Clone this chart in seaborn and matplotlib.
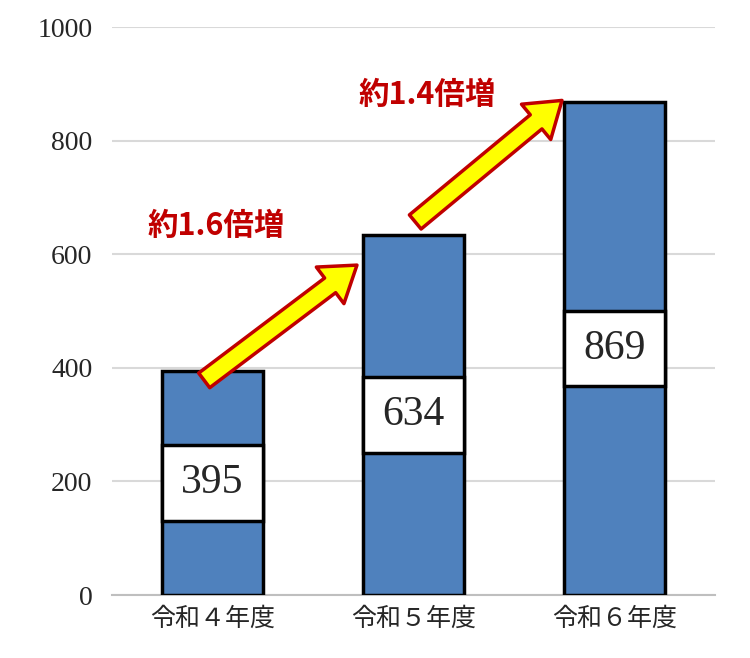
import matplotlib
matplotlib.use("Agg")
import matplotlib.pyplot as plt
import seaborn as sns
import pandas as pd

categories = ["令和４年度", "令和５年度", "令和６年度"]
values = [395, 634, 869]
ratio_labels = ["約1.6倍増", "約1.4倍増"]

sns.set_style("white")
plt.rcParams['font.family'] = ['Noto Sans CJK JP', 'DejaVu Sans']

df = pd.DataFrame({"cat": categories, "val": values})
fig = plt.figure(figsize=(7.5, 6.58), dpi=100)
ax = fig.add_axes([0.149, 0.0957, 0.804, 0.863])
sns.barplot(data=df, x="cat", y="val", color="#4F81BD", saturation=1,
            width=0.5, edgecolor="black", linewidth=2.5, ax=ax, zorder=3)
box_h = 133
for i, v in enumerate(values):
    ax.bar(i, box_h, bottom=v / 2 - box_h / 2, width=0.5, color="white",
           edgecolor="black", linewidth=2.5, zorder=4)
    ax.text(i, v / 2, str(v), ha="center", va="center", fontsize=30,
            family="Liberation Serif", zorder=5)

ax.set_ylim(0, 1000)
ax.set_xlim(-0.5, 2.5)
ax.set_yticks(range(0, 1001, 200))
ax.yaxis.grid(True, color="#D9D9D9", linewidth=1.5, zorder=0)
ax.set_axisbelow(True)
for s in ["left", "right", "top"]:
    ax.spines[s].set_visible(False)
ax.spines["bottom"].set_color("#BFBFBF")
ax.spines["bottom"].set_linewidth(1.5)
ax.set_xlabel("")
ax.set_ylabel("")
ax.tick_params(axis="y", labelsize=20, length=0, pad=14)
ax.tick_params(axis="x", labelsize=18, length=0, pad=8)
for t in ax.get_yticklabels():
    t.set_family("Liberation Serif")

arrows = [((-0.04, 378), (0.72, 581)), ((1.01, 657), (1.74, 871))]
for (s, e) in arrows:
    ax.annotate("", xy=e, xytext=s, zorder=6,
                arrowprops=dict(arrowstyle="simple,head_length=1.1,head_width=1.5,tail_width=0.6",
                                fc="#FFFF00", ec="#C00000", lw=2.5, mutation_scale=22,
                                shrinkA=0, shrinkB=0))
ax.text(0.02, 650, ratio_labels[0], color="#C00000", fontsize=22, fontweight="bold",
        ha="center", va="center", zorder=7)
ax.text(1.07, 880, ratio_labels[1], color="#C00000", fontsize=22, fontweight="bold",
        ha="center", va="center", zorder=7)
fig.savefig("out.png", dpi=100)
